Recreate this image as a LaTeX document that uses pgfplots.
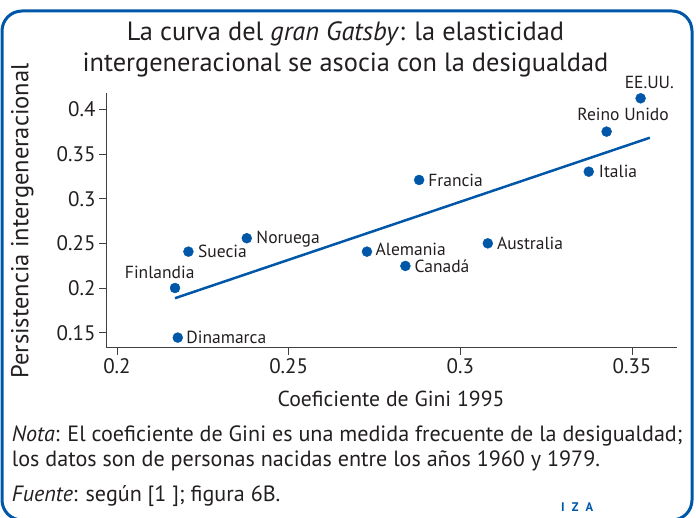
\documentclass[border=0pt]{standalone}
\usepackage{pgfplots}
\pgfplotsset{compat=1.18}
\usepackage{fontspec}
\setmainfont{PT Sans}
\definecolor{izablue}{RGB}{0,87,168}
\definecolor{txt}{RGB}{35,31,32}
\newcommand{\lab}{\fontsize{17.5}{20}\selectfont}
\begin{document}
\begin{tikzpicture}[x=1pt,y=1pt]
\clip (0,0) rectangle (696,517);
\draw[izablue, line width=3pt, rounded corners=20pt] (2,-3) rectangle (692,506);
\begin{scope}[every node/.style={inner sep=0pt, text=txt}]
\node[anchor=base, font=\fontsize{26.4}{30}\selectfont] at (345.5,476.3) {La curva del \textit{gran Gatsby}: la elasticidad};
\node[anchor=base, font=\fontsize{26.4}{30}\selectfont] at (345.5,445.3) {intergeneracional se asocia con la desigualdad};
\node[anchor=base, font=\fontsize{21.7}{25}\selectfont] at (391,110.5) {Coeficiente de Gini 1995};
\node[anchor=base, rotate=90, font=\fontsize{24.5}{28}\selectfont] at (28.5,296) {Persistencia intergeneracional};
\node[anchor=base west, font=\fontsize{22.1}{25}\selectfont] at (11.7,76) {\textit{Nota}: El coeficiente de Gini es una medida frecuente de la desigualdad;};
\node[anchor=base west, font=\fontsize{22.1}{25}\selectfont] at (11.7,51) {los datos son de personas nacidas entre los años 1960 y 1979.};
\node[anchor=base west, font=\fontsize{22.1}{25}\selectfont] at (11.7,15.5) {\textit{Fuente}: según [1 ]; figura 6B.};
\node[anchor=base west, font=\fontsize{12.5}{14}\selectfont\bfseries, text=izablue] at (561,5.3) {I\hspace{7pt}Z\hspace{7pt}A};
\end{scope}
\begin{axis}[at={(106pt,169.3pt)}, anchor=south west, scale only axis,
  width=571pt, height=254.4pt,
  xmin=0.1968, xmax=0.3631, ymin=0.1332, ymax=0.4179,
  axis lines=left, axis line style={-, line width=0.9pt, black!75},
  xtick={0.2,0.25,0.3,0.35}, xticklabels={0.2,0.25,0.3,0.35},
  ytick={0.15,0.2,0.25,0.3,0.35,0.4}, yticklabels={0.15,0.2,0.25,0.3,0.35,0.4},
  tick align=outside, major tick length=7pt,
  tick style={line width=0.9pt, black!75},
  every tick label/.append style={font=\fontsize{21}{25}\selectfont, text=txt},
  clip=false]
\addplot[izablue, line width=2.5pt] coordinates {(0.2169,0.1886) (0.3552,0.3682)};
\addplot[only marks, mark=*, mark size=5pt, izablue, mark options={draw=izablue, fill=izablue}] coordinates {
(0.3525,0.4123) (0.3426,0.3750) (0.3374,0.3302) (0.2880,0.3209) (0.3080,0.2500)
(0.2840,0.2247) (0.2728,0.2407) (0.2378,0.2557) (0.2208,0.2407) (0.2169,0.2000) (0.2177,0.1445)};
\begin{scope}[every node/.style={inner sep=0pt, text=txt, font=\lab}]
\node[anchor=base, xshift=8.7pt, yshift=10pt] at (axis cs:0.3525,0.4123) {EE.UU.};
\node[anchor=base, xshift=16.5pt, yshift=11pt] at (axis cs:0.3426,0.3750) {Reino Unido};
\node[anchor=base west, xshift=10pt, yshift=-6.2pt] at (axis cs:0.3374,0.3302) {Italia};
\node[anchor=base west, xshift=9pt, yshift=-6.2pt] at (axis cs:0.2880,0.3209) {Francia};
\node[anchor=base west, xshift=9pt, yshift=-6.2pt] at (axis cs:0.3080,0.2500) {Australia};
\node[anchor=base west, xshift=9pt, yshift=-6.2pt] at (axis cs:0.2840,0.2247) {Canadá};
\node[anchor=base west, xshift=8.5pt, yshift=-4pt] at (axis cs:0.2728,0.2407) {Alemania};
\node[anchor=base west, xshift=9.5pt, yshift=-5.5pt] at (axis cs:0.2378,0.2557) {Noruega};
\node[anchor=base west, xshift=9.5pt, yshift=-6.2pt] at (axis cs:0.2208,0.2407) {Suecia};
\node[anchor=base, xshift=-15.3pt, yshift=9.3pt] at (axis cs:0.2169,0.2000) {Finlandia};
\node[anchor=base west, xshift=8.5pt, yshift=-6.2pt] at (axis cs:0.2177,0.1445) {Dinamarca};
\end{scope}
\end{axis}
\end{tikzpicture}
\end{document}
